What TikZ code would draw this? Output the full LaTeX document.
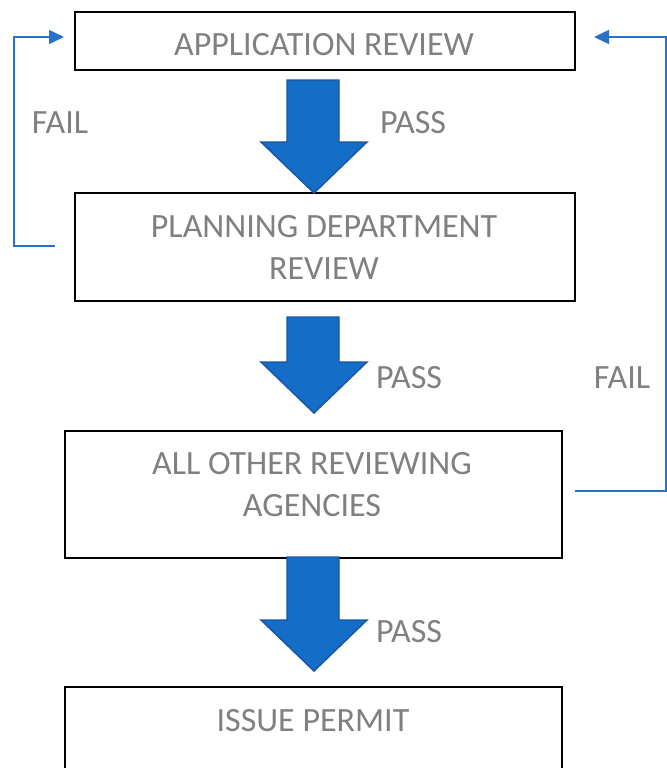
\documentclass[tikz,border=0pt]{standalone}
\usepackage{fontspec}
\setmainfont{Carlito}
\usetikzlibrary{arrows.meta}
\definecolor{txtgray}{RGB}{128,128,128}
\definecolor{blkfill}{RGB}{20,110,200}
\definecolor{blkedge}{RGB}{25,85,160}
\definecolor{loopblue}{RGB}{40,115,200}
\tikzset{
  box/.style={draw=black, line width=1.5pt, fill=white, inner sep=0pt, anchor=north west},
  lbl/.style={text=txtgray, font=\fontsize{25.5}{31.5}\selectfont, anchor=base, inner sep=0pt, align=center},
  blk/.style={fill=blkfill, draw=blkedge, line width=1.1pt, line join=miter},
  loop/.style={draw=loopblue, line width=1.1pt, -{Triangle[length=11.25pt,width=10.5pt]}}
}
\begin{document}
\begin{tikzpicture}[x=0.75pt,y=-0.75pt]
\useasboundingbox (0,0) rectangle (667,768);
\clip (0,0) rectangle (667,768);
% boxes
\node[box, minimum width=375pt, minimum height=43.5pt] (b1) at (74,11) {};
\node[box, minimum width=375pt, minimum height=81pt] (b2) at (74,192) {};
\node[box, minimum width=372.75pt, minimum height=95.25pt] (b3) at (64,430) {};
\node[box, minimum width=372.75pt, minimum height=75pt] (b4) at (64,686) {};
% box texts
\node[lbl] (t1) at (324,55) {APPLICATION REVIEW};
\node[lbl] (t2a) at (324,237) {PLANNING DEPARTMENT};
\node[lbl] (t2b) at (324,279) {REVIEW};
\node[lbl] (t3a) at (312,474) {ALL OTHER REVIEWING};
\node[lbl] (t3b) at (312,516) {AGENCIES};
\node[lbl] (t4) at (313,731) {ISSUE PERMIT};
% side labels
\node[lbl] (f1) at (60,133) {FAIL};
\node[lbl] (p1) at (413,133) {PASS};
\node[lbl] (p2) at (409,388) {PASS};
\node[lbl] (f2) at (622,388) {FAIL};
\node[lbl] (p3) at (409,642) {PASS};
% block arrows
\draw[blk] (287,80) -- (339,80) -- (339,142) -- (367,142) -- (314,193) -- (261,142) -- (287,142) -- cycle;
\draw[blk] (287,317) -- (339,317) -- (339,362) -- (367,362) -- (314,413) -- (261,362) -- (287,362) -- cycle;
\draw[blk] (287,557) -- (339,557) -- (339,620) -- (367,620) -- (314,671) -- (261,620) -- (287,620) -- cycle;
% fail loops
\coordinate (l0) at (55,246);
\coordinate (l1) at (14,246);
\coordinate (l2) at (14,37);
\coordinate (l3) at (64,37);
\draw[loop] (l0) -- (l1) -- (l2) -- (l3);
\coordinate (r0) at (575,491);
\coordinate (r1) at (666,491);
\coordinate (r2) at (666,37);
\coordinate (r3) at (594,37);
\draw[loop] (r0) -- (r1) -- (r2) -- (r3);
\end{tikzpicture}
\end{document}
